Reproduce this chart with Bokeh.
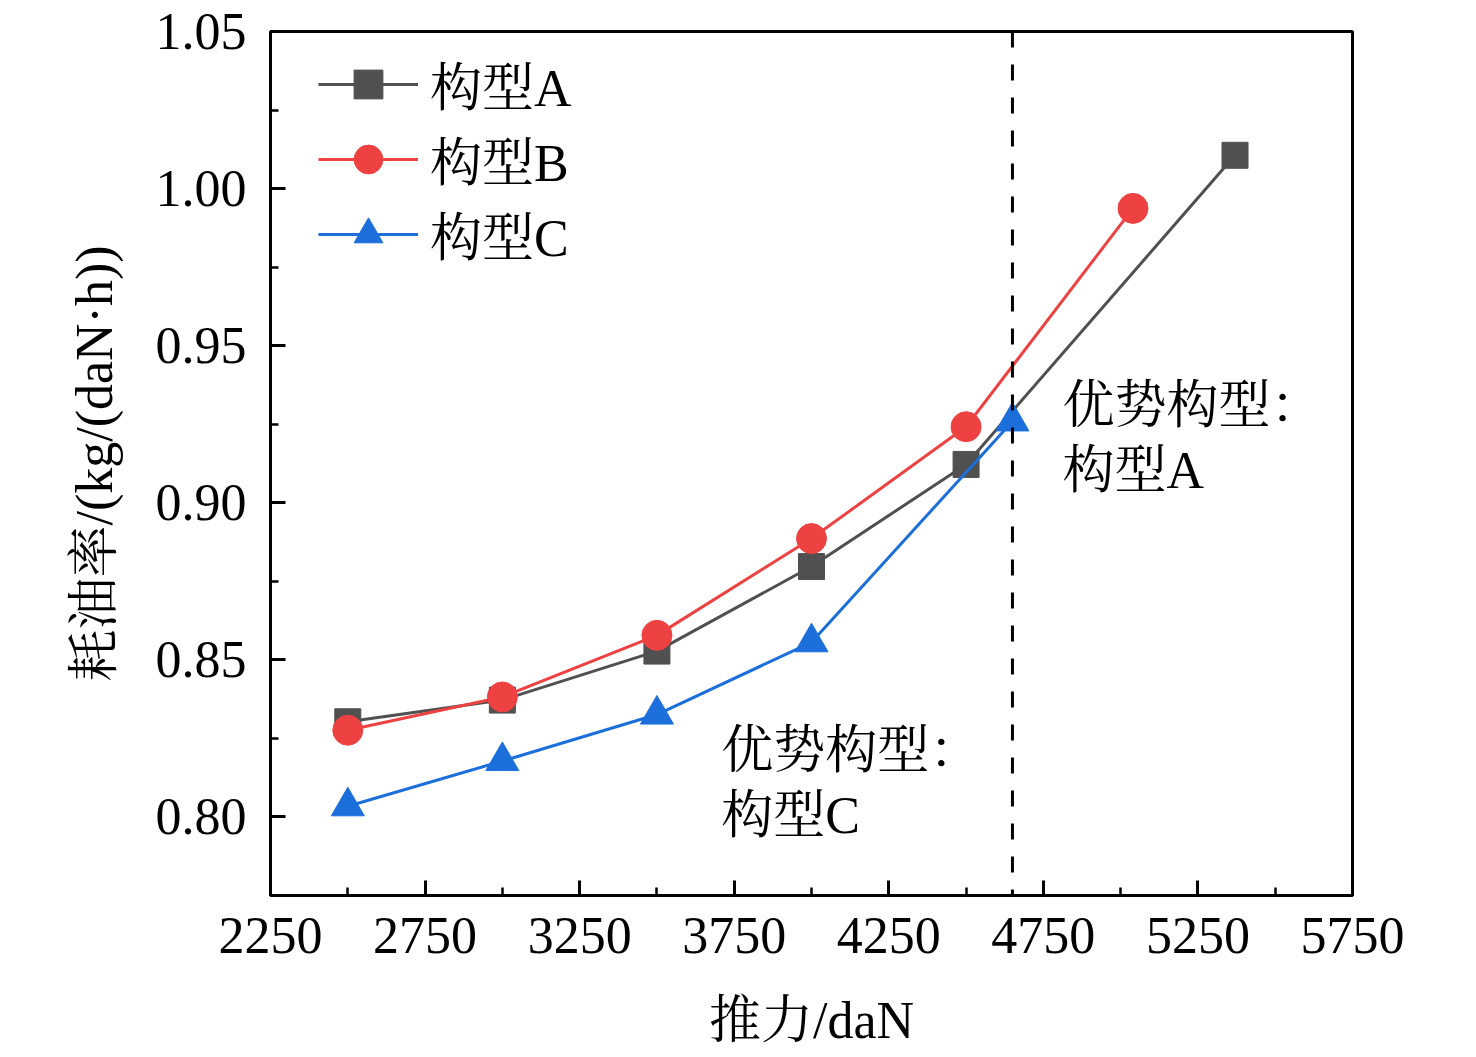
from bokeh.plotting import figure
from bokeh.models import Range1d, FixedTicker, Span, PrintfTickFormatter, ColumnDataSource
from bokeh.embed import file_html
from bokeh.resources import INLINE
from bokeh.core.properties import value

# ---- data ----
thrust_a = [2500, 3000, 3500, 4000, 4500, 5370]
sfc_a = [0.8303, 0.8372, 0.8528, 0.8797, 0.9122, 1.0106]
thrust_b = [2500, 3000, 3500, 4000, 4500, 5040]
sfc_b = [0.8276, 0.8382, 0.8578, 0.8886, 0.9242, 0.9937]
thrust_c = [2500, 3000, 3500, 4000, 4650]
sfc_c = [0.8034, 0.8178, 0.8326, 0.8556, 0.9259]
series_names = ["构型A", "构型B", "构型C"]
boundary_thrust = 4650

x_major_ticks = [2250, 2750, 3250, 3750, 4250, 4750, 5250, 5750]
x_minor_ticks = [2500, 3000, 3500, 4000, 4500, 5000, 5500]
y_major_ticks = [0.80, 0.85, 0.90, 0.95, 1.00, 1.05]
y_minor_ticks = [0.775, 0.825, 0.875, 0.925, 0.975, 1.025]

note_x = [4812, 4812, 3708, 3708]
note_y = [0.9309, 0.9102, 0.8213, 0.8006]
note_text = ["优势构型：", "构型A", "优势构型：", "构型C"]

FONT = "Liberation Serif, Noto Serif CJK SC, Noto Sans CJK SC"
FS = "52px"

p = figure(width=1468, height=1053,
           x_range=Range1d(2250, 5750), y_range=Range1d(0.775, 1.05),
           output_backend="svg", toolbar_location=None,
           min_border_left=270, min_border_right=116,
           min_border_top=31, min_border_bottom=158)

p.xgrid.visible = False
p.ygrid.visible = False
p.outline_line_color = "black"
p.outline_line_width = 3
p.background_fill_color = "white"
p.border_fill_color = "white"

p.xaxis.ticker = FixedTicker(ticks=x_major_ticks, minor_ticks=x_minor_ticks)
p.yaxis.ticker = FixedTicker(ticks=y_major_ticks, minor_ticks=y_minor_ticks)
p.yaxis.formatter = PrintfTickFormatter(format="%.2f")

for ax in (p.xaxis, p.yaxis):
    ax.axis_line_width = 3
    ax.axis_line_color = "black"
    ax.major_tick_line_width = 3
    ax.minor_tick_line_width = 2.5
    ax.major_tick_in = 15
    ax.major_tick_out = 0
    ax.minor_tick_in = 8
    ax.minor_tick_out = 0
    ax.major_label_text_font = FONT
    ax.major_label_text_font_size = FS
    ax.major_label_text_color = "black"
    ax.axis_label_text_font = FONT
    ax.axis_label_text_font_size = FS
    ax.axis_label_text_font_style = "normal"
    ax.axis_label_text_color = "black"

p.xaxis.axis_label = "推力/daN"
p.yaxis.axis_label = "耗油率/(kg/(daN·h))"
p.xaxis.major_label_standoff = 22
p.yaxis.major_label_standoff = 24
p.xaxis.axis_label_standoff = 36
p.yaxis.axis_label_standoff = 30

col_a = "#505050"
col_b = "#ee4242"
col_c = "#1c6fdb"

p.line(thrust_a, sfc_a, line_color=col_a, line_width=3, legend_label=series_names[0])
p.scatter(thrust_a, sfc_a, marker="square", size=26, fill_color=col_a, line_color=col_a,
          legend_label=series_names[0])
p.line(thrust_b, sfc_b, line_color=col_b, line_width=3, legend_label=series_names[1])
p.scatter(thrust_b, sfc_b, marker="circle", size=30, fill_color=col_b, line_color=col_b,
          legend_label=series_names[1])
p.line(thrust_c, sfc_c, line_color=col_c, line_width=3, legend_label=series_names[2])
p.scatter(thrust_c, sfc_c, marker="triangle", size=33, fill_color=col_c, line_color=col_c,
          legend_label=series_names[2])

p.add_layout(Span(location=boundary_thrust, dimension="height", line_color="black",
                  line_width=3, line_dash="16 17"))

src = ColumnDataSource(dict(x=note_x, y=note_y, t=note_text))
p.text(x="x", y="y", text="t", source=src, text_font=value(FONT), text_font_size=FS,
       text_baseline="middle", text_align="left", text_color="black")

lg = p.legend[0]
lg.location = (48, 624)
lg.margin = 0
lg.padding = 0
lg.border_line_color = None
lg.background_fill_alpha = 0
lg.glyph_width = 100
lg.glyph_height = 72
lg.spacing = 0
lg.label_standoff = 12
lg.label_text_font = FONT
lg.label_text_font_size = FS
lg.label_text_color = "black"

open("out.html", "w").write(file_html(p, INLINE))
